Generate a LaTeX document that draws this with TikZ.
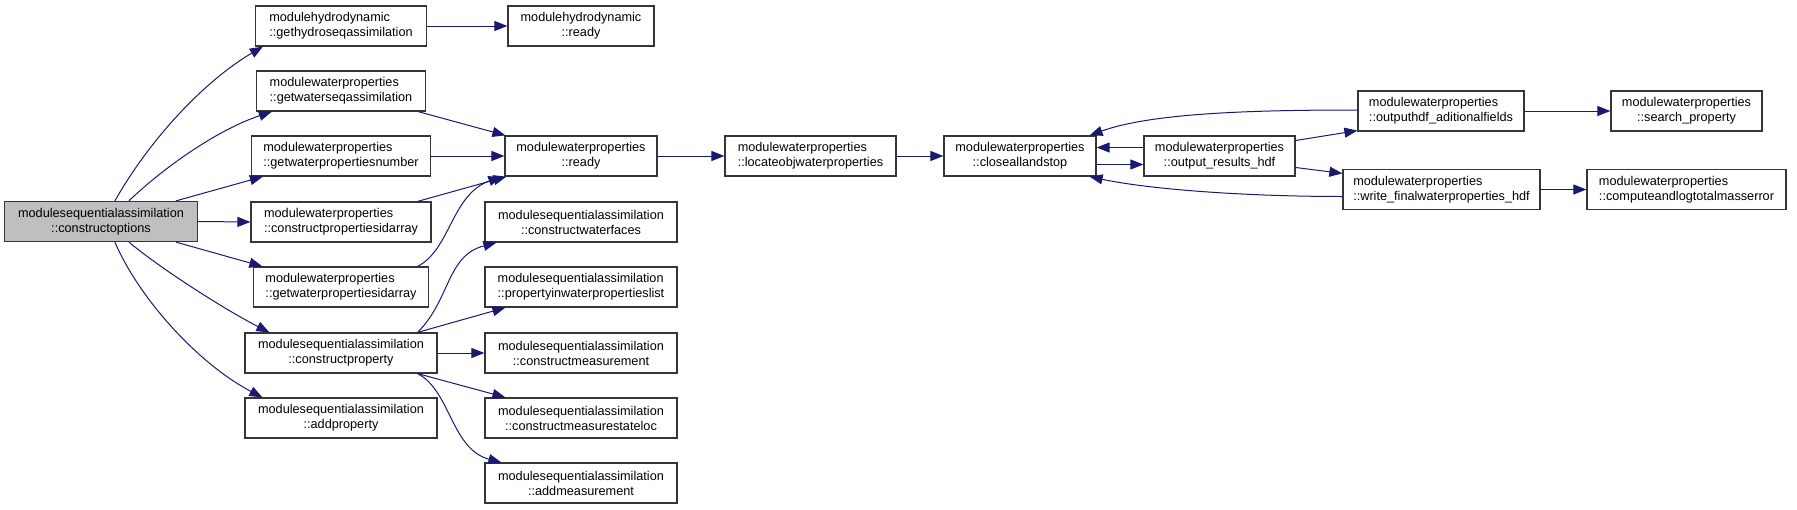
\documentclass[tikz,border=0pt]{standalone}
\usepackage{fontspec}
\setmainfont{Liberation Sans}
\usetikzlibrary{arrows.meta}
\definecolor{edgec}{HTML}{191970}
\definecolor{boxc}{HTML}{363636}
\definecolor{selc}{HTML}{BFBFBF}
\newcommand\lbl[2]{\setbox0=\hbox{#1}\setbox2=\hbox{#2}%
  \ifdim\wd0>\wd2 \dimen0=\wd0 \else\dimen0=\wd2 \fi
  \vbox{\baselineskip=15pt\hbox to\dimen0{#1\hfil}\hbox to\dimen0{\hfil#2\hfil}}}
\tikzset{
  fn/.style={draw=boxc, line width=1.2pt, fill=white, minimum height=40pt, inner sep=0pt,
    font=\fontsize{12.7}{15}\selectfont},
  sel/.style={fill=selc},
  call/.style={draw=edgec, line width=1pt, -{Triangle[length=13pt,width=10pt]}},
}
\begin{document}
\begin{tikzpicture}[x=1pt,y=-1pt]
\useasboundingbox (0,0) rectangle (1797,509);
% nodes
\node[fn,sel,minimum width=193pt] (co) at (101,221.5) {\lbl{modulesequentialassimilation}{::constructoptions}};
\node[fn,minimum width=171pt] (ghy) at (341,26) {\lbl{modulehydrodynamic}{::gethydroseqassimilation}};
\node[fn,minimum width=146pt] (hready) at (581,26) {\lbl{modulehydrodynamic}{::ready}};
\node[fn,minimum width=169pt] (gws) at (341,91) {\lbl{modulewaterproperties}{::getwaterseqassimilation}};
\node[fn,minimum width=179pt] (gwpn) at (341,156) {\lbl{modulewaterproperties}{::getwaterpropertiesnumber}};
\node[fn,minimum width=152pt] (wready) at (581,156) {\lbl{modulewaterproperties}{::ready}};
\node[fn,minimum width=180pt] (cpid) at (341,222) {\lbl{modulewaterproperties}{::constructpropertiesidarray}};
\node[fn,minimum width=192pt] (cwf) at (581,222) {\lbl{modulesequentialassimilation}{::constructwaterfaces}};
\node[fn,minimum width=175pt] (gwpid) at (341,287) {\lbl{modulewaterproperties}{::getwaterpropertiesidarray}};
\node[fn,minimum width=192pt] (cprop) at (341,353) {\lbl{modulesequentialassimilation}{::constructproperty}};
\node[fn,minimum width=192pt] (addprop) at (341,418) {\lbl{modulesequentialassimilation}{::addproperty}};
\node[fn,minimum width=192pt] (pinwpl) at (581,287) {\lbl{modulesequentialassimilation}{::propertyinwaterpropertieslist}};
\node[fn,minimum width=192pt] (cmeas) at (581,353) {\lbl{modulesequentialassimilation}{::constructmeasurement}};
\node[fn,minimum width=192pt] (cmsl) at (581,418) {\lbl{modulesequentialassimilation}{::constructmeasurestateloc}};
\node[fn,minimum width=192pt] (addmeas) at (581,483) {\lbl{modulesequentialassimilation}{::addmeasurement}};
\node[fn,minimum width=171pt] (locobj) at (810.5,156) {\lbl{modulewaterproperties}{::locateobjwaterproperties}};
\node[fn,minimum width=152pt] (close) at (1020,156) {\lbl{modulewaterproperties}{::closeallandstop}};
\node[fn,minimum width=151pt] (orh) at (1219.5,156) {\lbl{modulewaterproperties}{::output\_results\_hdf}};
\node[fn,minimum width=166pt] (ohaf) at (1441,111) {\lbl{modulewaterproperties}{::outputhdf\_aditionalfields}};
\node[fn,minimum width=151pt] (sprop) at (1686.5,111) {\lbl{modulewaterproperties}{::search\_property}};
\node[fn,minimum width=197pt] (wfwp) at (1441.5,189.5) {\lbl{modulewaterproperties}{::write\_finalwaterproperties\_hdf}};
\node[fn,minimum width=199pt] (calt) at (1686.5,189.5) {\lbl{modulewaterproperties}{::computeandlogtotalmasserror}};
% edges from constructoptions
\draw[call] ([xshift=111pt]co.north west) .. controls +(35,-62) and +(-58,34) .. ([xshift=8pt]ghy.south west);
\draw[call] ([xshift=125pt]co.north west) .. controls +(31,-30) and +(-57,19) .. ([xshift=16pt]gws.south west);
\draw[call] ([xshift=172pt]co.north west) -- ([xshift=12pt]gwpn.south west);
\draw[call] (co.east) -- (cpid.west);
\draw[call] ([xshift=172pt]co.south west) -- ([xshift=9.5pt]gwpid.north west);
\draw[call] ([xshift=125pt]co.south west) .. controls +(31,26) and +(-45,-23) .. ([xshift=25pt]cprop.north west);
\draw[call] ([xshift=111pt]co.south west) .. controls +(25,58) and +(-63,-33) .. ([xshift=18pt]addprop.north west);
% second column
\draw[call] (ghy.east) -- (hready.west);
\draw[call] ([xshift=-8pt]gws.south east) -- ([xshift=1pt]wready.north west);
\draw[call] (gwpn.east) -- (wready.west);
\draw[call] ([xshift=-14pt]cpid.north east) -- ([xshift=2pt]wready.south west);
\draw[call] ([xshift=-11.5pt]gwpid.north east) .. controls +(33,-17) and +(-50,18) .. ([xshift=-3pt]wready.south west);
\draw[call] ([xshift=-20pt]cprop.north east) .. controls +(33,-33) and +(-50,13) .. ([xshift=12pt]cwf.south west);
\draw[call] ([xshift=-20pt]cprop.north east) -- ([xshift=21pt]pinwpl.south west);
\draw[call] (cprop.east) -- (cmeas.west);
\draw[call] ([xshift=-20pt]cprop.south east) -- ([xshift=21pt]cmsl.north west);
\draw[call] ([xshift=-20pt]cprop.south east) .. controls +(33,17) and +(-50,-13) .. ([xshift=17pt]addmeas.north west);
% main chain
\draw[call] (wready.east) -- (locobj.west);
\draw[call] (locobj.east) -- (close.west);
\draw[call] ([yshift=-8.5pt]close.east) -- ([yshift=-8.5pt]orh.west);
\draw[call] ([yshift=8.5pt]orh.west) -- ([yshift=8.5pt]close.east);
\draw[call] ([yshift=15.5pt]orh.east) -- ([yshift=1pt]ohaf.south west);
\draw[call] ([yshift=-11.5pt]orh.east) -- ([yshift=-4.5pt]wfwp.north west);
\draw[call] ([yshift=1pt]ohaf.west) .. controls +(-110,0) and +(61,-22) .. ([xshift=-7pt]close.north east);
\draw[call] ([yshift=-7pt]wfwp.west) .. controls +(-95,0) and +(61,13) .. ([xshift=-7pt]close.south east);
\draw[call] (ohaf.east) -- (sprop.west);
\draw[call] (wfwp.east) -- (calt.west);
\end{tikzpicture}
\end{document}
